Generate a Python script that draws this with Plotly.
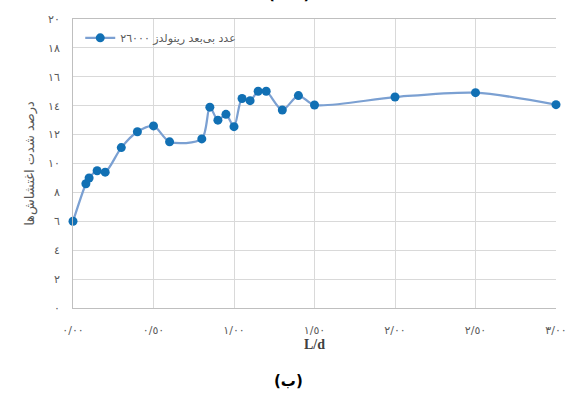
import plotly.graph_objects as go

# L/d positions and turbulence intensity (%) along the channel
x_ld = [0.00, 0.08, 0.10, 0.15, 0.20, 0.30, 0.40, 0.50, 0.60, 0.80, 0.85, 0.90,
        0.95, 1.00, 1.05, 1.10, 1.15, 1.20, 1.30, 1.40, 1.50, 2.00, 2.50, 3.00]
intensity = [6.0, 8.6, 9.0, 9.5, 9.4, 11.1, 12.2, 12.6, 11.5, 11.7, 13.9, 13.0,
             13.4, 12.55, 14.5, 14.35, 15.0, 15.0, 13.7, 14.7, 14.05, 14.6, 14.9, 14.07]

series_name = "عدد بی‌بعد رینولدز ٢٦٠٠٠"
x_tickvals = [0.0, 0.5, 1.0, 1.5, 2.0, 2.5, 3.0]
x_ticktext = ["٠/٠٠", "٠/٥٠", "١/٠٠", "١/٥٠", "٢/٠٠", "٢/٥٠", "٣/٠٠"]
y_tickvals = [0, 2, 4, 6, 8, 10, 12, 14, 16, 18, 20]
y_ticktext = ["٠", "٢", "٤", "٦", "٨", "١٠", "١٢", "١٤", "١٦", "١٨", "٢٠"]
y_title = "درصد شدت اغتشاش‌ها"
x_title = "L/d"
caption = "(ب)"
prev_caption = "(الف)"

grid = "#d9d9d9"
tick_font = dict(family="DejaVu Sans", size=11, color="#595959")

fig = go.Figure()
fig.add_trace(go.Scatter(
    x=x_ld, y=intensity, name=series_name, mode="lines+markers",
    line=dict(color="#7ba0d2", width=2.25, shape="spline", smoothing=0.8),
    marker=dict(color="#1170b4", size=9),
    cliponaxis=False,
    showlegend=True,
))

fig.update_layout(
    width=579, height=394,
    margin=dict(l=73, r=20, t=19, b=86),
    paper_bgcolor="white", plot_bgcolor="white",
    showlegend=True,
    legend=dict(x=0.015, y=0.985, xanchor="left", yanchor="top",
                bgcolor="rgba(0,0,0,0)",
                font=dict(family="DejaVu Sans", size=11, color="#595959"),
                itemwidth=30),
    xaxis=dict(range=[0, 3], tickvals=x_tickvals, ticktext=x_ticktext,
               showgrid=True, gridcolor=grid, gridwidth=1,
               showline=True, linecolor="#bfbfbf", linewidth=1, mirror=True,
               ticks="outside", ticklen=12, tickcolor="rgba(0,0,0,0)",
               tickfont=tick_font, zeroline=False,
               title=dict(text="<b>" + x_title + "</b>", standoff=2,
                          font=dict(family="Liberation Serif", size=14, color="#404040"))),
    yaxis=dict(range=[0, 20], tickvals=y_tickvals, ticktext=y_ticktext,
               showgrid=True, gridcolor=grid, gridwidth=1,
               showline=True, linecolor="#bfbfbf", linewidth=1,
               ticks="outside", ticklen=10, tickcolor="rgba(0,0,0,0)",
               tickfont=tick_font, zeroline=False,
               title=dict(text=y_title, standoff=10,
                          font=dict(family="DejaVu Sans", size=13, color="#595959"))),
)

# caption of this panel, below the axis
fig.add_annotation(text="<b>" + caption + "</b>", xref="paper", yref="paper",
                   x=(290 - 73) / 486, y=-(381 - 308) / 289,
                   xanchor="center", yanchor="middle", showarrow=False,
                   font=dict(family="DejaVu Sans", size=15, color="black"))

# caption of the panel above, mostly cut off at the top edge
fig.add_annotation(text="<b>" + prev_caption + "</b>", xref="paper", yref="paper",
                   x=(290 - 73) / 486, y=(308 - 5) / 289,
                   xanchor="center", yanchor="bottom", showarrow=False,
                   font=dict(family="DejaVu Sans", size=15, color="black"))

fig.write_html("out.html")
